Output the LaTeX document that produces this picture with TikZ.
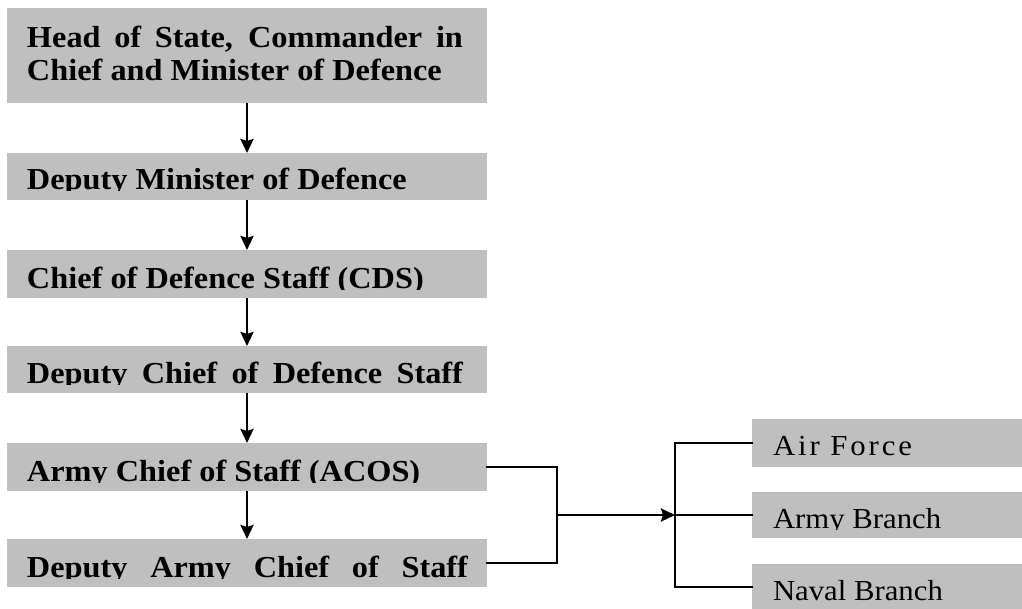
\documentclass[tikz,border=0pt]{standalone}
\usepackage{fontspec}
\setmainfont{Liberation Serif}
\newfontfamily\orgfont[FakeStretch=1.06]{Liberation Serif}
\usetikzlibrary{arrows.meta}
\definecolor{boxgrey}{HTML}{BFBFBF}

\tikzset{
  box/.style={fill=boxgrey, draw=none, inner sep=0pt, outer sep=0pt, anchor=north west},
  lbox/.style={box, minimum width=480pt},
  rbox/.style={box, minimum width=270pt},
  lbl/.style={anchor=base west, inner sep=0pt, outer sep=0pt,
    font=\orgfont\bfseries\fontsize{30.5}{33}\selectfont},
  rlbl/.style={anchor=base west, inner sep=0pt, outer sep=0pt,
    font=\orgfont\fontsize{29}{32}\selectfont},
  link/.style={line width=2.6pt, line cap=rect},
  arrowlink/.style={line width=2.6pt, -{Stealth[length=14pt, width=13pt, inset=2pt]}},
}

\begin{document}
\begin{tikzpicture}[x=1pt, y=-1pt]
\useasboundingbox (0,0) rectangle (1022,608);

% chain of command boxes
\node[lbox, minimum height=95pt] (b1) at (7,8) {};
\node[lbox, minimum height=47pt] (b2) at (7,153) {};
\node[lbox, minimum height=48pt] (b3) at (7,250) {};
\node[lbox, minimum height=47pt] (b4) at (7,346) {};
\node[lbox, minimum height=48pt] (b5) at (7,443) {};
\node[lbox, minimum height=48pt] (b6) at (7,539) {};

% service branches
\node[rbox, minimum height=48pt] (r1) at (752,419) {};
\node[rbox, minimum height=46pt] (r2) at (752,492) {};
\node[rbox, minimum height=46pt] (r3) at (752,564) {};

% labels (text set flush on the bottom line of each box)
\node[lbl] (t1a) at (27,47) {\makebox[436pt][s]{Head of State, Commander in}};
\node[lbl] (t1b) at (27,80) {Chief and Minister of Defence};
\begin{scope}
  \clip (7,153) rectangle (487,190);
  \node[lbl] (t2) at (27,189) {Deputy Minister of Defence};
\end{scope}
\begin{scope}
  \clip (7,250) rectangle (487,289);
  \node[lbl] (t3) at (27,288) {Chief of Defence Staff (CDS)};
\end{scope}
\begin{scope}
  \clip (7,346) rectangle (487,384);
  \node[lbl] (t4) at (27,383) {\makebox[436pt][s]{Deputy Chief of Defence Staff}};
\end{scope}
\begin{scope}
  \clip (7,443) rectangle (487,482);
  \node[lbl] (t5) at (27,481) {Army Chief of Staff (ACOS)};
\end{scope}
\begin{scope}
  \clip (7,539) rectangle (487,578);
  \node[lbl] (t6) at (27,577) {\makebox[441pt][s]{Deputy Army Chief of Staff}};
\end{scope}

\node[rlbl] (s1) at (773,455) {A\kern2.9pt i\kern2.9pt r\kern2.9pt\ F\kern2.9pt o\kern2.9pt r\kern2.9pt c\kern2.9pt e};
\begin{scope}
  \clip (752,492) rectangle (1022,529);
  \node[rlbl] (s2) at (773,528) {Army Branch};
\end{scope}
\node[rlbl] (s3) at (773,600) {Naval Branch};

% vertical chain arrows
\draw[arrowlink] (b1.south) -- (b2.north);
\draw[arrowlink] (b2.south) -- (b3.north);
\draw[arrowlink] (b3.south) -- (b4.north);
\draw[arrowlink] (b4.south) -- (b5.north);
\draw[arrowlink] (b5.south) -- (b6.north);

% bracket joining the army staff to the branches
\coordinate (j1) at (557,515);
\coordinate (j2) at (675,515);
\draw[link] (b5.east) -| (j1) |- (b6.east);
\draw[arrowlink] (j1) -- (j2);
\draw[link] (r1.west) -| (j2) |- (r3.west);
\draw[link] (j2) -- (r2.west);
\end{tikzpicture}
\end{document}
